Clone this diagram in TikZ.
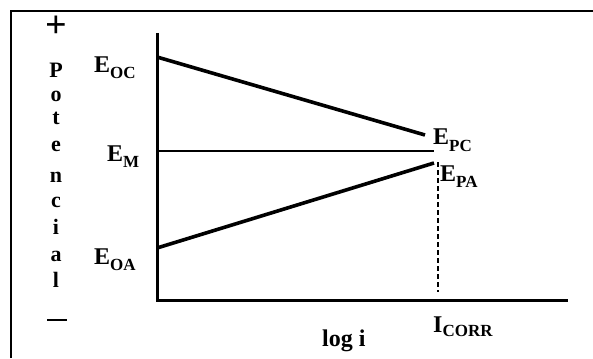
\documentclass[tikz,border=0pt]{standalone}
\usepackage{fontspec}
\setmainfont{Liberation Serif}
\newcommand{\lowsub}[2][6pt]{\raisebox{-#1}{\fontsize{17}{17}\selectfont #2}}
\begin{document}
\begin{tikzpicture}[x=1pt,y=-1pt,
  lbl/.style={font=\bfseries\fontsize{24}{24}\selectfont, inner sep=0pt, anchor=base west},
  letter/.style={font=\bfseries\fontsize{22}{22}\selectfont, inner sep=0pt, anchor=base},
  axis/.style={line width=3pt},
  curve/.style={line width=3.6pt},
  thinline/.style={line width=1.8pt},
  frame/.style={line width=2.5pt}]
\useasboundingbox (0,0) rectangle (593,358);
% frame
\coordinate (fbl) at (11,358);
\coordinate (ftl) at (11,11);
\coordinate (ftr) at (593,11);
\draw[frame] (fbl) -- (ftl) -- (ftr);
% axes
\coordinate (ytop) at (157,33);
\coordinate (orig) at (157,300);
\coordinate (xend) at (568,300);
\draw[axis] (ytop) -- (orig) -- (xend);
% lines
\coordinate (oc) at (157,57);
\coordinate (pc) at (425,135);
\coordinate (em0) at (157,151);
\coordinate (em1) at (434,151);
\coordinate (oa) at (157,248);
\coordinate (pa) at (434,163);
\coordinate (d0) at (438,162);
\coordinate (d1) at (438,292);
\draw[curve] (oc) -- (pc);
\draw[thinline] (em0) -- (em1);
\draw[curve] (oa) -- (pa);
\draw[line width=2.3pt, dash pattern=on 5pt off 3pt] (d0) -- (d1);
% vertical label
\node[font=\bfseries\fontsize{38}{38}\selectfont, inner sep=0pt] (plus) at (56,27) {+};
\node[inner sep=0pt] (minus) at (57,320) {\rule{20pt}{2.8pt}};
\foreach \c/\y [count=\i] in {P/78,o/102,t/125,e/151,n/182,c/207,i/234,a/261,l/287}
  \node[letter] (l\i) at (56,\y) {\c};
% potential labels
\node[lbl] (eoc) at (94,73) {E\lowsub{OC}};
\node[lbl] (em) at (107,161) {E\lowsub{M}};
\node[lbl] (eoa) at (94,264) {E\lowsub{OA}};
\node[lbl] (epc) at (433,145) {E\lowsub{PC}};
\node[lbl] (epa) at (440,181) {E\lowsub{PA}};
% axis labels
\node[font=\bfseries\fontsize{24}{24}\selectfont, inner sep=0pt, anchor=base west] (logi) at (322,346) {log i};
\node[lbl] (icorr) at (433,332) {I\lowsub[4pt]{CORR}};
\end{tikzpicture}
\end{document}
